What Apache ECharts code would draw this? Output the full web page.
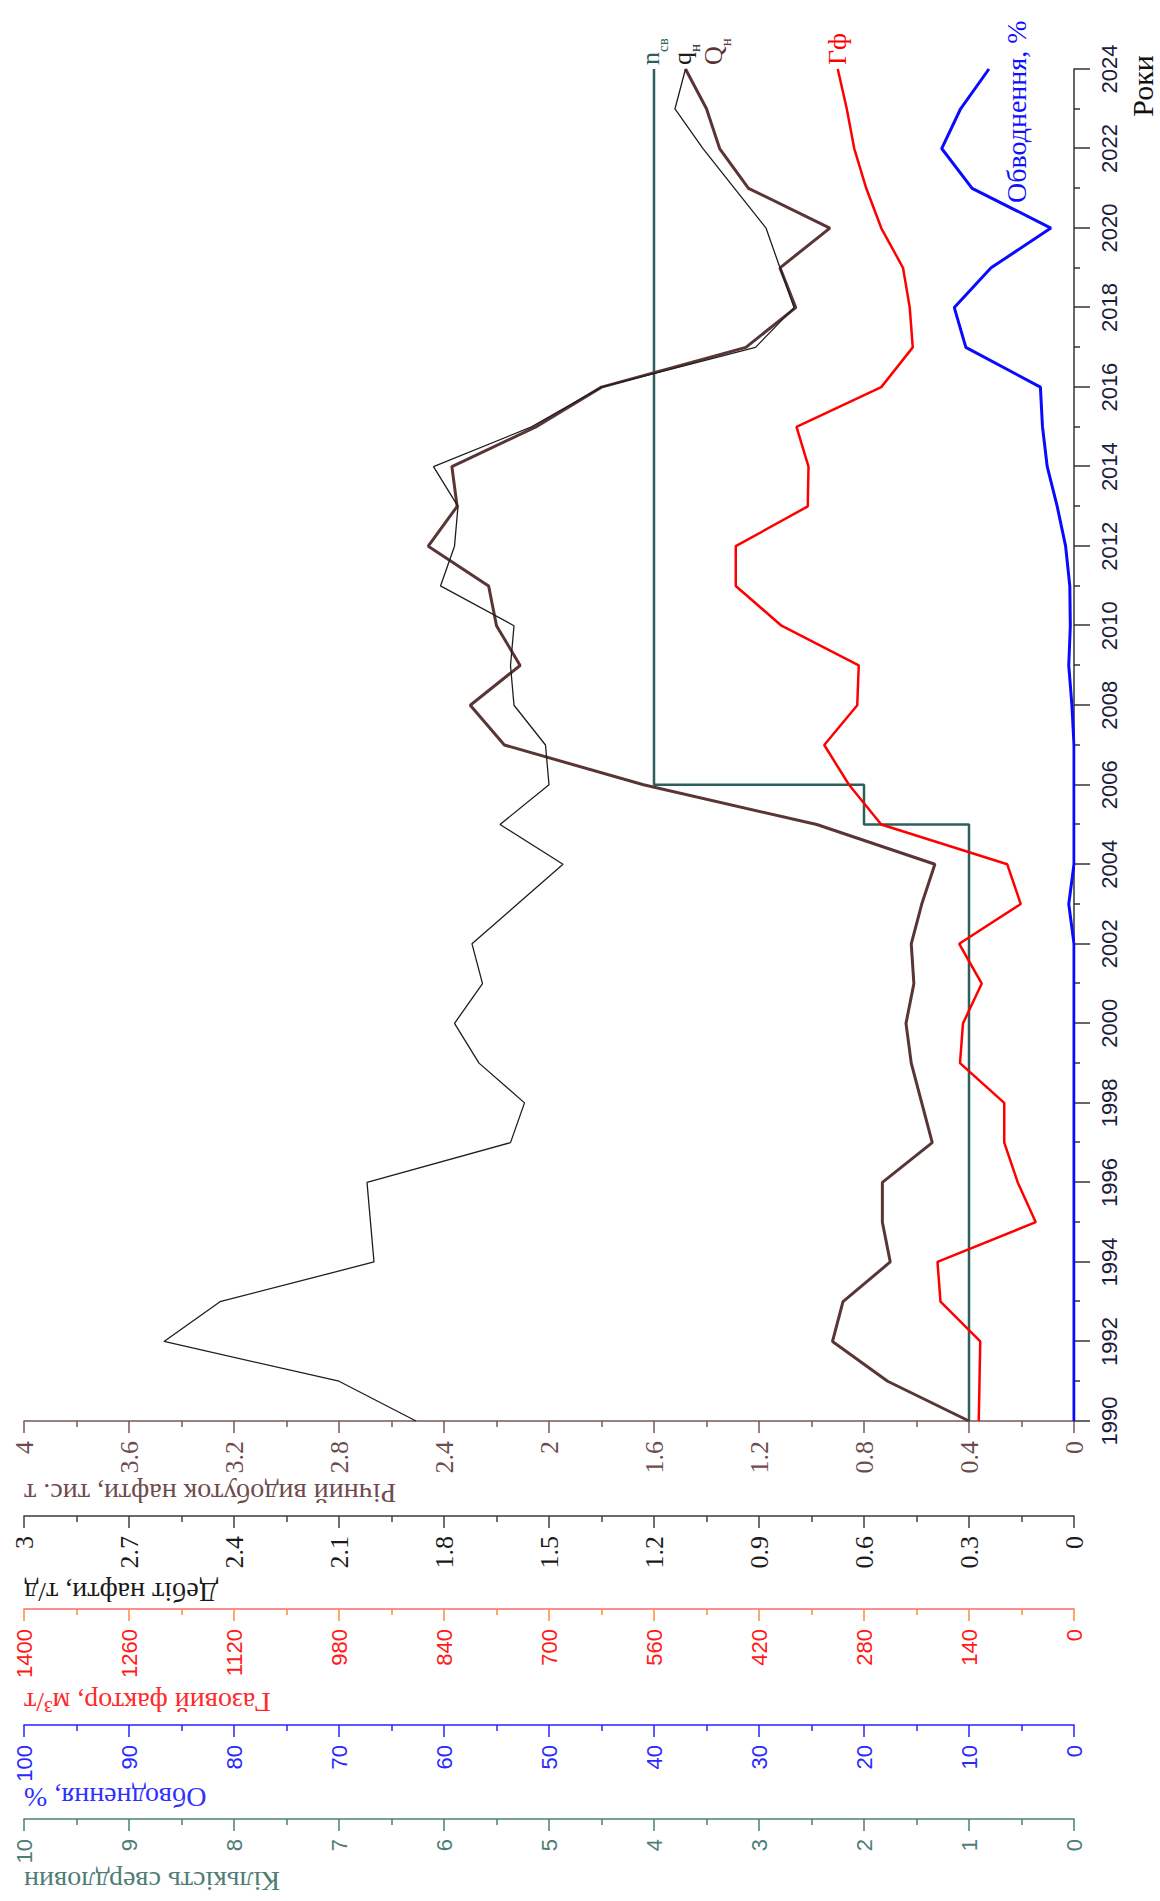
<!DOCTYPE html>
<html>
<head>
<meta charset="utf-8">
<script src="https://cdn.jsdelivr.net/npm/echarts@6/dist/echarts.min.js"></script>
<style>
html,body{margin:0;padding:0;width:1160px;height:1901px;overflow:hidden;background:#fff;}
#chart{position:absolute;left:0;top:0;width:1901px;height:1160px;transform-origin:0 0;transform:translate(0,1901px) rotate(-90deg);}
</style>
</head>
<body>
<div id="chart"></div>
<script>
// ---- data ----
const years = [1990,1991,1992,1993,1994,1995,1996,1997,1998,1999,2000,2001,2002,2003,2004,2005,2006,2007,2008,2009,2010,2011,2012,2013,2014,2015,2016,2017,2018,2019,2020,2021,2022,2023,2024];
// number of wells, n_св
const wellCount = [1,1,1,1,1,1,1,1,1,1,1,1,1,1,1,2,4,4,4,4,4,4,4,4,4,4,4,4,4,4,4,4,4,4,4];
// oil rate q_н, t/day
const oilRate = [1.88,2.10,2.60,2.44,2.00,2.01,2.02,1.61,1.57,1.70,1.77,1.69,1.72,1.59,1.46,1.64,1.50,1.51,1.60,1.61,1.60,1.81,1.77,1.76,1.83,1.55,1.35,0.91,0.80,0.84,0.88,0.97,1.06,1.14,1.11];
// annual oil production Q_н, thousand t
const annualOil = [0.40,0.71,0.92,0.88,0.70,0.73,0.73,0.54,0.58,0.62,0.64,0.61,0.62,0.58,0.53,0.98,1.64,2.17,2.30,2.11,2.20,2.23,2.46,2.35,2.37,2.05,1.80,1.25,1.06,1.12,0.93,1.24,1.35,1.40,1.48];
// gas factor Гф, m3/t
const gasFactor = [127,126,125,178,182,51,75,93,93,152,148,123,153,71,89,257,300,333,289,287,390,451,451,355,354,370,257,215,219,228,257,277,293,303,315];
// water cut, %
const waterCut = [0,0,0,0,0,0,0,0,0,0,0,0,0,0.5,0,0,0,0,0.2,0.5,0.35,0.4,0.8,1.6,2.55,3.0,3.2,10.3,11.4,7.9,2.2,9.7,12.6,10.8,8.1];

const axisNames = ['Річний видобуток нафти, тис. т','Дебіт нафти, т/д','Газовий фактор, м³/т','Обводнення, %','Кількість свердловин'];
const xAxisName = 'Роки';

function pairs(arr){ return years.map((y,i)=>[y, arr[i]]); }
const fmt = v => String(Math.round(v*100)/100);

function vAxis(max, interval, offset, lineColor, tickColor, labelColor, family, size){
  return {
    type:'value', position:'left', min:0, max:max, interval:interval, offset:offset,
    axisLine:{show:true, onZero:false, lineStyle:{color:lineColor, width:1.5}},
    axisTick:{show:true, inside:false, length:12, lineStyle:{color:tickColor, width:1.5}},
    minorTick:{show:true, splitNumber:2, length:6, lineStyle:{color:tickColor, width:1.5}},
    splitLine:{show:false}, minorSplitLine:{show:false},
    axisLabel:{color:labelColor, fontFamily:family, fontSize:size, margin:20, formatter:fmt}
  };
}

const SERIF = '"Liberation Serif", "DejaVu Serif", serif';
const SANS = '"Liberation Sans", Arial, sans-serif';

function nameText(x, text, color){
  return {type:'text', x:x, y:24, rotation:Math.PI/2, silent:true,
    style:{text:text, fill:color, font:'28px ' + SERIF, align:'right', verticalAlign:'middle'}};
}

function subLabel(main, sub, color, extra){
  return Object.assign({
    show:true, distance:4,
    formatter:'{b|' + main + '}{s|' + sub + '}',
    rich:{
      b:{fontFamily:SERIF, fontSize:26, color:color, verticalAlign:'bottom', padding:[0,0,7,0]},
      s:{fontFamily:SERIF, fontSize:15, color:color, verticalAlign:'bottom'}
    }
  }, extra || {});
}

const chart = echarts.init(document.getElementById('chart'), null, {renderer:'svg', width:1901, height:1160});

chart.setOption({
  animation:false,
  backgroundColor:'#ffffff',
  grid:{left:480, right:69, top:24, bottom:86, containLabel:false, outerBoundsMode:'none'},
  xAxis:{
    type:'value', min:1990, max:2024, interval:2, position:'bottom',
    axisLine:{show:true, onZero:false, lineStyle:{color:'#333', width:1.5}},
    axisTick:{show:true, length:16, lineStyle:{color:'#333', width:1.5}},
    minorTick:{show:true, splitNumber:2, length:6, lineStyle:{color:'#333', width:1.5}},
    splitLine:{show:false},
    axisLabel:{fontFamily:SANS, fontSize:22, color:'#1c1c3c', margin:24, formatter:v=>String(v)}
  },
  yAxis:[
    vAxis(4, 0.4, 0, '#7a5656', '#7a5656', '#6e4c4c', SERIF, 26),
    vAxis(3, 0.3, 95, '#3a3a3a', '#4a3a3a', '#1a1a1a', SERIF, 26),
    vAxis(1400, 140, 188, '#ff6a6a', '#ff8a3a', '#ff1a1a', SANS, 22),
    vAxis(100, 10, 304, '#2424ff', '#2424ff', '#2a2aff', SANS, 22),
    vAxis(10, 1, 398, '#4d7d75', '#4d7d75', '#4d7d75', SANS, 22)
  ],
  graphic:[
    nameText(408, axisNames[0], '#6e4c4c'),
    nameText(309, axisNames[1], '#1a1a1a'),
    nameText(199, axisNames[2], '#ff2a2a'),
    nameText(104, axisNames[3], '#3030ff'),
    nameText(20, axisNames[4], '#4d7d75'),
    {type:'text', x:1815, y:1157, silent:true,
      style:{text:xAxisName, fill:'#111', font:'30px ' + SERIF, align:'center', verticalAlign:'bottom'}}
  ],
  series:[
    {name:'n_св', type:'line', yAxisIndex:4, step:'end', data:pairs(wellCount), symbol:'none',
      lineStyle:{color:'#2d5f5d', width:2.5}, z:3,
      endLabel:subLabel('n', 'св', '#2d5f5d')},
    {name:'Гф', type:'line', yAxisIndex:2, data:pairs(gasFactor), symbol:'none',
      lineStyle:{color:'#ff0000', width:2.5}, z:3,
      endLabel:{show:true, distance:4, formatter:'Гф', color:'#ff0000', fontFamily:SERIF, fontSize:26}},
    {name:'Обводнення, %', type:'line', yAxisIndex:3, data:pairs(waterCut), symbol:'none',
      lineStyle:{color:'#0a0aff', width:3}, z:3,
      endLabel:{show:true, distance:4, offset:[-138, 28], formatter:'Обводнення, %', color:'#1010ff', fontFamily:SERIF, fontSize:28}},
    {name:'Q_н', type:'line', yAxisIndex:0, data:pairs(annualOil), symbol:'none',
      lineStyle:{color:'#5a3535', width:3}, z:4,
      endLabel:subLabel('Q', 'н', '#5a3535', {offset:[0, 31]})},
    {name:'q_н', type:'line', yAxisIndex:1, data:pairs(oilRate), symbol:'none',
      lineStyle:{color:'#1e1e1e', width:1.3}, z:5,
      endLabel:subLabel('q', 'н', '#1e1e1e')}
  ]
});
</script>
</body>
</html>
